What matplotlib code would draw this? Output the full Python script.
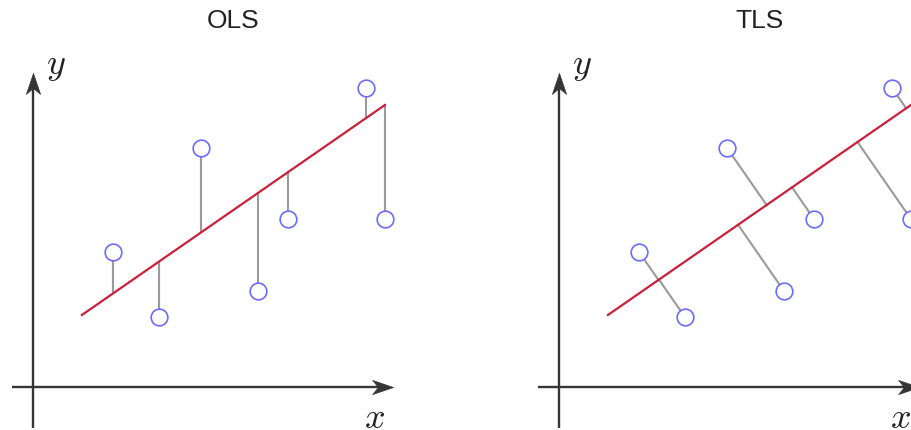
import numpy as np
import matplotlib
matplotlib.use("Agg")
import matplotlib.pyplot as plt

plt.rcParams['mathtext.fontset'] = 'cm'

# data points (same set in both panels)
pts_x = [2.67, 4.2, 5.6, 7.5, 8.5, 11.1, 11.73]
pts_y = [4.5, 2.33, 7.97, 3.2, 5.6, 9.97, 5.6]

# fitted line end points
line_x = [1.63, 11.73]
line_y = [2.4, 9.4]

titles = ["OLS", "TLS"]
xlims = [(-1.1, 14.1), (-3.433, 11.767)]
ylim = (-1.433, 12.9)

AXIS_COL = '#353535'
STEM_COL = '#9a9a9a'
RED = '#cc1f3c'
BLUE = '#6b6bff'

# notched arrow heads, tip at the marker's origin
HEAD_RIGHT = [(0, 0), (-1, 0.34), (-0.72, 0), (-1, -0.34), (0, 0)]
HEAD_UP = [(0, 0), (-0.34, -1), (0, -0.72), (0.34, -1), (0, 0)]


def foot_ols(px, py):
    slope = (line_y[1] - line_y[0]) / (line_x[1] - line_x[0])
    return px, line_y[0] + slope * (px - line_x[0])


def foot_tls(px, py):
    p0 = np.array([line_x[0], line_y[0]])
    d = np.array([line_x[1] - line_x[0], line_y[1] - line_y[0]])
    d = d / np.linalg.norm(d)
    t = np.dot(np.array([px, py]) - p0, d)
    f = p0 + t * d
    return f[0], f[1]


def draw_panel(ax, title, xlim, foot):
    ax.set_xlim(*xlim)
    ax.set_ylim(*ylim)
    ax.axis('off')

    # axes with arrow heads
    ax.plot([-0.7, 11.6], [0, 0], color=AXIS_COL, lw=1.7, clip_on=False,
            solid_capstyle='butt')
    ax.plot([0, 0], [-1.37, 10.1], color=AXIS_COL, lw=1.7, clip_on=False,
            solid_capstyle='butt')
    ax.plot([12.0], [0], marker=HEAD_RIGHT, ms=30, color=AXIS_COL,
            mec=AXIS_COL, mew=0.5, clip_on=False)
    ax.plot([0], [10.47], marker=HEAD_UP, ms=30, color=AXIS_COL,
            mec=AXIS_COL, mew=0.5, clip_on=False)

    for px, py in zip(pts_x, pts_y):
        fx, fy = foot(px, py)
        ax.plot([px, fx], [py, fy], color=STEM_COL, lw=1.5, zorder=2)

    ax.plot(line_x, line_y, color=RED, lw=1.6, zorder=3)
    ax.plot(pts_x, pts_y, 'o', ms=12, mfc='white', mec=BLUE, mew=1.2,
            zorder=4)

    ax.text(6.67, 12.2, title, ha='center', va='center',
            fontsize=19, family='Liberation Sans', color='#222222')
    ax.text(11.4, -1.03, r'$x$', ha='center', va='center', fontsize=26,
            color='#222222')
    ax.text(0.77, 10.7, r'$y$', ha='center', va='center', fontsize=26,
            color='#222222')


fig = plt.figure(figsize=(9.12, 4.30), dpi=100)
ax1 = fig.add_axes([0, 0, 0.5, 1])
ax2 = fig.add_axes([0.5, 0, 0.5, 1])

draw_panel(ax1, titles[0], xlims[0], foot_ols)
draw_panel(ax2, titles[1], xlims[1], foot_tls)

fig.savefig('out.png', dpi=100)
